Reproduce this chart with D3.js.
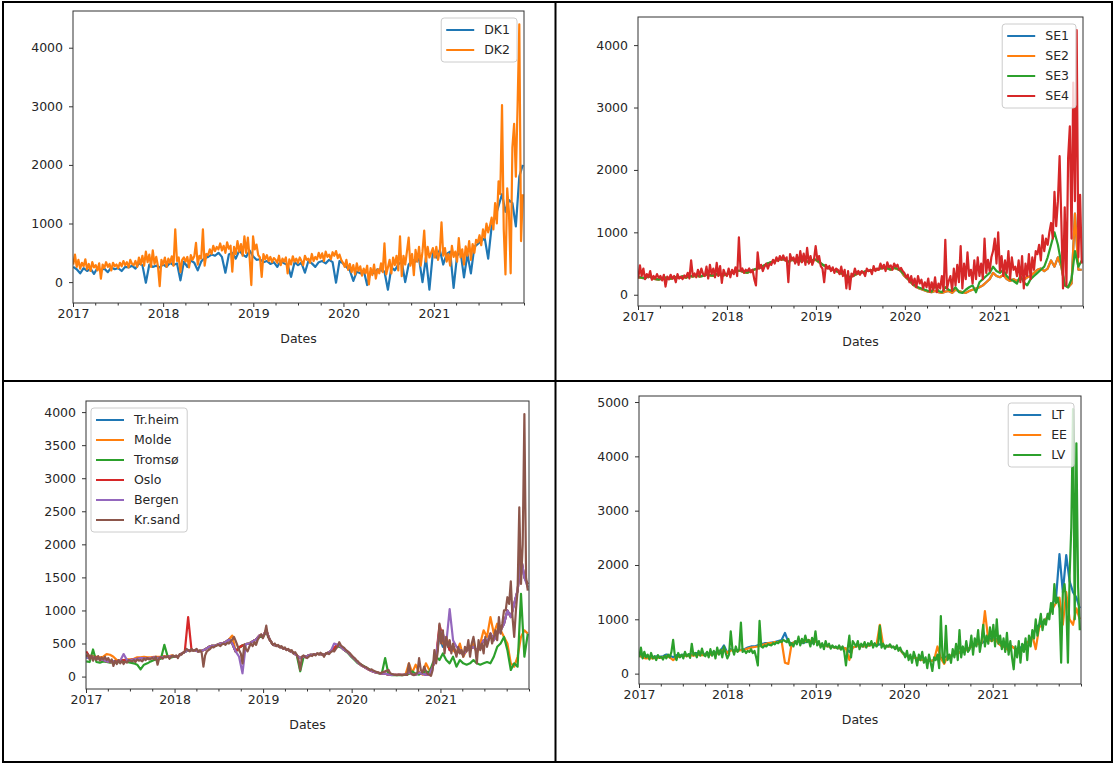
<!DOCTYPE html>
<html>
<head>
<meta charset="utf-8">
<script src="https://cdn.jsdelivr.net/npm/d3@7"></script>
<style>
body { margin: 0; background: #fff; }
svg text { font-family: "DejaVu Sans", sans-serif; }
</style>
</head>
<body>
<script>
// weekly / biweekly prices, from 2017-01-02
var weekly = 7, biweekly = 14;
var yearTicks = ["2017", "2018", "2019", "2020", "2021"];
var xLabel = "Dates";

var dk1 = [
  260, 220, 150, 240, 190, 230, 140, 240, 200, 230, 170, 250, 220, 240, 190, 260, 250, 280, 230, 320, 290, -10, 300, 260, 280, 250,
  300, 260, 330, 290, 320, 30, 350, 260, 370, 330, 200, 350, 410, 430, 470, 450, 500, 430, 160, 470, 500, 400, 540, 470, 430, 540,
  440, 380, 390, 340, 360, 310, 340, 260, 360, 320, 290, 90, 340, 290, 330, 160, 360, 320, 260, 340, 360, 320, 380, 340, -10, 360,
  320, 260, 200, 20, 180, 150, 200, -50, 180, 150, 220, 200, 180, -130, 250, 200, 300, 350, 0, 300, 380, 350, 400, 0, 420, -130,
  500, 420, 550, 300, 480, 520, -100, 450, 520, 80, 480, 150, 600, 650, 700, 750, 400, 950, 1100, 1300, 1500, 1200, 1400, 1350, 950, 1800,
  2000];
var dk2 = [
  300, 470, 260, 380, 230, 330, 270, 390, 220, 310, 190, 340, 250, 290, 200, 320, 60, 300, 240, 340, 260, 310, 200, 330, 270, 300,
  240, 330, 270, 360, 290, 340, 250, 380, 310, 290, 360, 260, 420, 300, 450, 280, 520, 340, 470, 260, 540, 310, 430, 270, -70, 380,
  300, 420, 260, 400, 330, 440, 280, 900, 360, 420, 170, 380, 420, 350, 430, 250, 460, 380, 440, 670, 300, 450, 400, 900, 280, 480,
  460, 560, 480, 620, 530, 600, 560, 660, 540, 620, 500, 680, 570, 620, 180, 600, 480, 700, 520, 650, 450, 780, 500, 760, 420, -50,
  780, 560, 640, 460, 420, 90, 480, 390, 460, 360, 430, 340, 410, 380, 330, 450, 290, 400, 350, 420, 150, 390, 300, 440, 350, 400,
  330, 420, 360, 290, 450, 380, 400, 330, 480, 360, 430, 390, 500, 410, 490, 360, 520, 430, 470, 390, 510, 450, 530, 410, 470, 380,
  330, 260, 380, 210, 310, 170, 290, 130, 320, 190, 270, 110, 230, 150, 280, -40, 240, 120, 300, 60, 220, 150, 320, 170, 660, 130,
  250, 380, 150, 420, 290, 450, 200, 780, 100, 450, 300, 520, 760, 280, 480, 120, 550, 350, 600, 280, 520, 880, 350, 600, 420, 500,
  580, 420, 600, 380, 520, 1020, 450, 580, 350, 480, 280, 620, 430, 520, 350, 750, 420, 560, 300, 610, 450, 700, 380, 650, 500, 720,
  680, 800, 630, 900, 760, 1000, 850, 960, 1100, 900, 1350, 1000, 1720, 1500, 3020, 900, 130, 1600, 1200, 150, 2300, 2700, 1800, 3000, 4400, 700,
  1500];

var se1 = [
  280, 270, 260, 300, 270, 250, 240, 260, 270, 250, 260, 280, 270, 290, 270, 300, 290, 310, 290, 300, 320, 310, 300, 330, 320, 310,
  330, 350, 360, 380, 380, 360, 350, 380, 400, 420, 440, 470, 500, 520, 540, 560, 570, 560, 520, 560, 540, 520, 560, 540, 520, 550,
  560, 520, 480, 450, 420, 400, 380, 350, 330, 300, 280, 300, 330, 350, 360, 380, 380, 400, 400, 420, 430, 420, 400, 430, 410, 380,
  300, 250, 190, 140, 110, 90, 70, 50, 40, 60, 40, 30, 50, 60, 30, 80, 60, 40, 30, 60, 80, 100, 120, 150, 200, 250,
  350, 300, 280, 320, 250, 220, 250, 220, 260, 240, 280, 300, 350, 400, 420, 380, 420, 550, 450, 600, 450, 150, 120, 180, 1300, 400,
  400];
var se2 = [
  280, 270, 265, 300, 270, 250, 240, 260, 270, 250, 260, 280, 270, 290, 270, 300, 290, 310, 290, 300, 320, 310, 300, 330, 320, 310,
  330, 350, 360, 380, 380, 360, 350, 380, 400, 420, 440, 470, 500, 520, 540, 560, 570, 560, 520, 560, 540, 520, 560, 540, 520, 550,
  560, 520, 480, 450, 420, 400, 380, 350, 330, 300, 280, 300, 330, 350, 360, 380, 380, 400, 400, 420, 430, 420, 400, 430, 410, 380,
  300, 250, 190, 140, 110, 90, 70, 50, 40, 60, 40, 30, 50, 60, 30, 80, 60, 40, 30, 60, 80, 100, 120, 150, 200, 250,
  350, 300, 280, 320, 250, 220, 250, 220, 260, 240, 280, 300, 350, 400, 420, 380, 420, 550, 450, 600, 450, 150, 120, 180, 1300, 400,
  400];
var se3 = [
  285, 275, 265, 300, 275, 255, 245, 265, 275, 255, 265, 285, 275, 295, 275, 305, 295, 315, 295, 305, 325, 315, 305, 335, 325, 315,
  335, 355, 365, 385, 385, 365, 355, 385, 405, 425, 445, 475, 505, 525, 545, 565, 575, 565, 525, 565, 545, 525, 565, 545, 525, 555,
  565, 525, 485, 455, 425, 405, 385, 355, 335, 305, 285, 305, 335, 355, 365, 385, 385, 405, 405, 425, 435, 425, 405, 435, 415, 385,
  320, 260, 200, 150, 120, 100, 80, 60, 50, 150, 60, 40, 120, 80, 60, 120, 40, 30, 80, 120, 150, 40, 200, 250, 300, 350,
  450, 380, 350, 400, 300, 250, 220, 180, 300, 200, 150, 250, 300, 350, 400, 450, 600, 800, 1000, 800, 500, 150, 120, 250, 700, 450,
  550];
var se4 = [
  260, 470, 300, 420, 250, 330, 280, 380, 240, 300, 260, 330, 270, 300, 230, 320, 130, 290, 250, 320, 260, 300, 200, 330, 260, 290,
  250, 310, 280, 350, 260, 550, 300, 340, 280, 400, 300, 420, 330, 300, 450, 260, 480, 330, 420, 280, 510, 300, 460, 190, 400, 330,
  300, 420, 280, 400, 330, 440, 300, 920, 380, 420, 350, 400, 380, 420, 360, 400, 250, 150, 680, 420, 480, 380, 450, 500, 420, 500,
  480, 560, 500, 600, 540, 620, 560, 630, 550, 600, 200, 650, 560, 600, 500, 640, 480, 700, 520, 660, 480, 750, 500, 620, 480, 560,
  780, 560, 620, 460, 420, 200, 480, 420, 460, 380, 440, 350, 420, 400, 330, 450, 300, 400, 100, 380, 90, 340, 300, 420, 330, 380,
  320, 380, 360, 300, 420, 380, 400, 330, 460, 380, 420, 400, 500, 420, 480, 380, 520, 440, 470, 400, 500, 450, 480, 400, 430, 380,
  350, 280, 320, 200, 300, 160, 260, 120, 300, 180, 240, 100, 200, 120, 260, 50, 200, 80, 280, 40, 180, 100, 300, 60, 880, 100,
  220, 300, 60, 420, 150, 480, 200, 780, 100, 500, 250, 680, 300, 400, 180, 550, 250, 600, 300, 500, 250, 900, 350, 560, 380, 600,
  700, 900, 500, 1000, 380, 620, 300, 550, 350, 700, 250, 600, 400, 450, 300, 550, 200, 620, 100, 500, 300, 650, 250, 600, 400, 700,
  650, 800, 550, 950, 700, 900, 800, 1000, 1150, 900, 1650, 1100, 1500, 2220, 1200, 100, 1400, 150, 2200, 2700, 900, 3400, 1500, 4240, 600, 1600,
  500];

var trheim = [
  290, 280, 290, 280, 270, 250, 230, 220, 230, 220, 240, 250, 250, 250, 260, 270, 280, 280, 270, 280, 290, 280, 290, 300, 300, 310,
  310, 300, 345, 370, 400, 400, 400, 380, 390, 410, 445, 465, 470, 490, 505, 520, 560, 500, 380, 440, 470, 490, 500, 530, 560, 620,
  610, 700, 560, 480, 470, 450, 430, 410, 390, 360, 320, 280, 300, 310, 330, 330, 345, 340, 330, 355, 385, 430, 480, 450, 400, 370,
  315, 265, 215, 170, 140, 110, 85, 65, 55, 45, 45, 30, 25, 25, 25, 25, 30, 120, 35, 30, 60, 40, 30, 25, 150, 300,
  600, 450, 550, 400, 450, 350, 400, 330, 400, 420, 450, 400, 450, 550, 500, 650, 550, 650, 700, 800, 1000, 900, 1100, 1300, 1800, 1500,
  1400];
var molde = [
  320, 300, 310, 300, 290, 300, 340, 330, 300, 250, 240, 250, 260, 260, 270, 290, 290, 300, 290, 290, 300, 300, 300, 310, 300, 320,
  310, 300, 345, 370, 400, 400, 400, 380, 390, 410, 445, 465, 470, 490, 505, 520, 560, 620, 380, 440, 470, 490, 500, 530, 560, 620,
  610, 700, 560, 480, 470, 450, 430, 410, 390, 360, 320, 280, 300, 310, 330, 330, 345, 340, 330, 355, 385, 430, 480, 450, 400, 370,
  315, 265, 215, 170, 140, 110, 85, 65, 55, 45, 45, 30, 25, 25, 25, 25, 30, 200, 60, 180, 60, 30, 200, 100, 150, 300,
  700, 500, 600, 450, 400, 350, 500, 300, 400, 450, 500, 350, 500, 700, 600, 900, 650, 800, 700, 600, 500, 200, 150, 300, 600, 700,
  650];
var tromso = [
  230, 220, 410, 220, 210, 230, 220, 210, 220, 220, 220, 230, 220, 210, 200, 180, 110, 180, 200, 230, 250, 260, 270, 480, 300, 290,
  300, 300, 345, 370, 400, 400, 400, 380, 390, 410, 445, 465, 470, 490, 505, 520, 560, 500, 380, 440, 470, 490, 500, 530, 560, 600,
  600, 680, 560, 480, 470, 450, 430, 410, 390, 360, 320, 80, 300, 310, 330, 330, 345, 340, 330, 355, 385, 420, 460, 440, 400, 360,
  300, 250, 200, 180, 150, 120, 90, 70, 50, 40, 280, 30, 20, 20, 20, 20, 30, 40, 80, 40, 30, 60, 80, 60, 200, 300,
  250, 350, 250, 200, 300, 150, 250, 200, 180, 200, 250, 200, 180, 200, 220, 200, 300, 450, 500, 600, 400, 100, 200, 150, 1250, 300,
  650];
var oslo = [
  380, 300, 280, 290, 270, 250, 230, 220, 220, 230, 240, 250, 250, 250, 260, 270, 280, 280, 270, 280, 290, 280, 290, 300, 300, 310,
  310, 300, 345, 370, 900, 400, 400, 380, 390, 410, 445, 465, 470, 490, 505, 520, 560, 500, 380, 440, 470, 490, 500, 530, 560, 620,
  610, 700, 560, 480, 470, 450, 430, 410, 390, 360, 320, 280, 300, 310, 330, 330, 345, 340, 330, 355, 385, 430, 480, 450, 400, 370,
  315, 265, 215, 170, 140, 110, 85, 65, 55, 45, 45, 30, 25, 25, 25, 25, 30, 60, 35, 30, 60, 40, 30, 25, 150, 300,
  780, 600, 550, 400, 450, 350, 400, 330, 400, 420, 450, 400, 450, 550, 500, 650, 550, 650, 700, 800, 1000, 900, 1100, 1300, 1800, 1500,
  1400];
var bergen = [
  290, 280, 290, 280, 270, 250, 230, 220, 230, 220, 240, 340, 250, 250, 260, 270, 280, 280, 270, 280, 290, 280, 290, 300, 300, 310,
  310, 300, 345, 370, 400, 400, 400, 380, 390, 410, 445, 465, 470, 490, 505, 520, 560, 500, 380, 300, 50, 490, 500, 530, 560, 620,
  610, 700, 560, 480, 470, 450, 430, 410, 390, 360, 320, 280, 300, 310, 330, 330, 345, 340, 330, 355, 385, 500, 480, 450, 400, 370,
  315, 265, 215, 170, 140, 110, 85, 65, 55, 45, 45, 30, 25, 25, 25, 25, 30, 60, 35, 30, 60, 40, 30, 25, 150, 300,
  700, 650, 500, 1020, 550, 450, 400, 330, 400, 420, 450, 400, 450, 550, 500, 650, 550, 650, 700, 800, 1000, 900, 1100, 1300, 1800, 1500,
  1350];
var krsand = [
  300, 340, 260, 320, 240, 300, 250, 310, 240, 290, 260, 300, 250, 280, 220, 260, 160, 240, 190, 250, 200, 240, 190, 230, 210, 250,
  240, 230, 250, 220, 260, 240, 250, 230, 270, 250, 280, 260, 270, 280, 260, 300, 180, 280, 290, 270, 300, 290, 310, 270, 300, 320,
  300, 320, 280, 340, 330, 360, 380, 420, 400, 380, 420, 390, 400, 420, 380, 400, 360, 150, 320, 380, 400, 420, 450, 440, 460, 470,
  480, 460, 490, 500, 480, 510, 500, 530, 560, 600, 540, 470, 400, 350, 200, 480, 420, 380, 450, 500, 460, 520, 480, 560, 600, 640,
  580, 640, 770, 600, 560, 520, 480, 500, 460, 480, 440, 460, 420, 440, 400, 420, 380, 400, 350, 370, 330, 250, 100, 300, 320, 290,
  280, 300, 320, 310, 340, 320, 350, 330, 360, 340, 300, 350, 360, 340, 370, 390, 380, 420, 450, 520, 470, 450, 430, 400, 380, 360,
  330, 300, 280, 250, 230, 200, 180, 160, 150, 140, 120, 100, 110, 90, 80, 70, 60, 50, 60, 70, 80, 90, 100, 50, 40, 30,
  25, 20, 30, 25, 20, 25, 30, 25, 200, 60, 30, 20, 40, 60, 280, 100, 60, 150, 80, 40, 30, 10, 100, 400, 200, 380,
  800, 500, 700, 350, 600, 450, 550, 350, 500, 400, 300, 450, 350, 400, 300, 450, 380, 550, 300, 500, 600, 450, 200, 550, 400, 500,
  350, 600, 450, 550, 650, 500, 600, 700, 550, 900, 650, 800, 1000, 1000, 1200, 1100, 1440, 900, 600, 1000, 1300, 2560, 1400, 2000, 3970, 1500,
  1300];

var lt = [
  350, 330, 320, 300, 300, 320, 310, 320, 350, 330, 300, 340, 330, 350, 330, 360, 340, 380, 360, 350, 380, 360, 400, 380, 420, 520,
  380, 450, 420, 430, 440, 450, 480, 500, 500, 520, 540, 560, 560, 570, 580, 600, 620, 750, 580, 560, 580, 600, 560, 580, 600, 560,
  600, 540, 520, 510, 500, 490, 480, 470, 480, 460, 400, 480, 500, 520, 500, 510, 520, 540, 530, 540, 520, 500, 500, 490, 470, 440,
  360, 330, 300, 300, 280, 250, 260, 250, 230, 250, 300, 280, 300, 320, 330, 350, 380, 400, 420, 450, 500, 520, 550, 560, 600, 620,
  650, 650, 600, 550, 500, 450, 500, 450, 450, 500, 550, 600, 650, 850, 900, 950, 1000, 1100, 1300, 1400, 2200, 1500, 2180, 1700, 1500, 1400,
  1200];
var ee = [
  330, 300, 280, 290, 280, 300, 290, 300, 320, 300, 250, 300, 320, 330, 320, 340, 330, 350, 340, 340, 360, 350, 380, 370, 400, 450,
  380, 430, 420, 420, 430, 440, 460, 480, 490, 500, 520, 540, 560, 560, 580, 580, 600, 200, 180, 560, 580, 600, 580, 600, 620, 580,
  600, 540, 520, 510, 500, 490, 480, 470, 480, 460, 250, 480, 500, 520, 500, 510, 520, 540, 530, 900, 520, 500, 500, 490, 470, 440,
  360, 330, 300, 300, 280, 250, 260, 250, 230, 250, 500, 280, 180, 320, 330, 350, 380, 400, 420, 450, 500, 520, 550, 560, 1150, 620,
  600, 650, 550, 500, 480, 420, 500, 450, 400, 450, 550, 600, 700, 450, 850, 900, 1000, 1100, 1200, 1300, 1400, 900, 1500, 1000, 900, 1200,
  1000];
var lv = [
  300, 480, 280, 400, 300, 350, 260, 380, 280, 320, 250, 340, 290, 310, 260, 330, 280, 350, 300, 400, 620, 330, 250, 380, 300, 350,
  280, 400, 320, 360, 290, 550, 340, 380, 300, 420, 330, 460, 350, 320, 400, 300, 450, 330, 420, 280, 480, 350, 440, 300, 500, 380,
  280, 350, 780, 450, 350, 500, 400, 450, 940, 400, 430, 380, 420, 400, 450, 380, 420, 300, 150, 970, 500, 480, 520, 500, 540, 530,
  520, 560, 540, 580, 560, 600, 580, 620, 600, 580, 640, 520, 560, 500, 600, 540, 680, 520, 640, 560, 700, 580, 620, 500, 660, 540,
  780, 520, 600, 480, 560, 450, 600, 500, 550, 460, 520, 480, 500, 460, 520, 440, 500, 400, 150, 450, 700, 300, 600, 550, 500, 600,
  450, 550, 500, 580, 480, 560, 520, 600, 480, 560, 500, 540, 880, 480, 550, 460, 520, 500, 540, 480, 500, 450, 520, 420, 480, 400,
  380, 300, 420, 250, 350, 200, 400, 300, 150, 350, 250, 400, 200, 300, 100, 350, 200, 50, 300, 250, 350, 100, 1060, 300, 200, 880,
  250, 350, 200, 450, 300, 550, 250, 800, 300, 500, 350, 600, 400, 450, 700, 350, 650, 500, 800, 400, 600, 900, 500, 700, 550, 850,
  600, 900, 500, 1000, 550, 700, 450, 650, 400, 750, 350, 600, 300, 80, 500, 300, 600, 200, 550, 400, 650, 250, 700, 500, 800, 650,
  1000, 700, 900, 1100, 800, 1000, 900, 1100, 1000, 1300, 1100, 1650, 1300, 1400, 1200, 200, 1500, 1650, 1300, 200, 1800, 2700, 4870, 1000, 4240, 1600,
  800];

var colors = ["#1f77b4", "#ff7f0e", "#2ca02c", "#d62728", "#9467bd", "#8c564b"];

var panels = [
  {names: ["DK1", "DK2"], values: [dk1, dk2], steps: [biweekly, weekly],
   yTicks: [0, 1000, 2000, 3000, 4000], left: 73, right: 524, top: 11, bottom: 303, legend: "right"},
  {names: ["SE1", "SE2", "SE3", "SE4"], values: [se1, se2, se3, se4], steps: [biweekly, biweekly, biweekly, weekly],
   yTicks: [0, 1000, 2000, 3000, 4000], left: 638, right: 1083, top: 17, bottom: 306, legend: "right"},
  {names: ["Tr.heim", "Molde", "Tromsø", "Oslo", "Bergen", "Kr.sand"],
   values: [trheim, molde, tromso, oslo, bergen, krsand], steps: [biweekly, biweekly, biweekly, biweekly, biweekly, weekly],
   yTicks: [0, 500, 1000, 1500, 2000, 2500, 3000, 3500, 4000], left: 86, right: 529, top: 401, bottom: 689, legend: "left"},
  {names: ["LT", "EE", "LV"], values: [lt, ee, lv], steps: [biweekly, biweekly, weekly],
   yTicks: [0, 1000, 2000, 3000, 4000, 5000], left: 639, right: 1081, top: 396, bottom: 684, legend: "right"}
];

var svg = d3.select("body").append("svg")
    .attr("width", 1114)
    .attr("height", 764);

var start = new Date(2017, 0, 2);
var x0 = new Date(2017, 0, 1), x1 = new Date(2022, 0, 1);
var majors = yearTicks.map(function(t) { return new Date(+t, 0, 1); });
var minors = d3.timeMonth.every(3).range(x0, new Date(2022, 0, 2))
    .filter(function(d) { return d.getMonth() !== 0 || d.getFullYear() === 2022; });

panels.forEach(function(p, k) {
    var g = svg.append("g");

    var x = d3.scaleTime().domain([x0, x1]).range([p.left, p.right]);
    var all = d3.merge(p.values);
    var lo = d3.min(all), hi = d3.max(all), pad = (hi - lo) * 0.05;
    var y = d3.scaleLinear().domain([lo - pad, hi + pad]).range([p.bottom, p.top]);

    g.append("clipPath").attr("id", "clip" + k)
      .append("rect")
        .attr("x", p.left).attr("y", p.top)
        .attr("width", p.right - p.left).attr("height", p.bottom - p.top);

    p.values.forEach(function(vals, i) {
        var line = d3.line()
            .x(function(d, j) { return x(d3.timeDay.offset(start, j * p.steps[i])); })
            .y(function(d) { return y(d); });
        g.append("path")
            .attr("d", line(vals))
            .attr("fill", "none")
            .attr("stroke", colors[i])
            .attr("stroke-width", 2.2)
            .attr("stroke-linejoin", "round")
            .attr("clip-path", "url(#clip" + k + ")");
    });

    // axes
    g.append("g")
        .attr("transform", "translate(0," + p.bottom + ")")
        .call(d3.axisBottom(x).tickValues(minors).tickFormat("").tickSize(2.5));
    g.append("g")
        .attr("transform", "translate(0," + p.bottom + ")")
        .call(d3.axisBottom(x).tickValues(majors).tickFormat(d3.timeFormat("%Y")).tickSize(4).tickPadding(2));
    g.append("g")
        .attr("transform", "translate(" + p.left + ",0)")
        .call(d3.axisLeft(y).tickValues(p.yTicks).tickFormat(d3.format("d")).tickSize(4).tickPadding(6));

    g.selectAll(".domain").remove();
    g.selectAll(".tick line").attr("stroke", "#333");
    g.selectAll(".tick text").attr("fill", "#262626");
    g.selectAll("g").attr("font-family", null).attr("font-size", 12.5);

    g.append("rect")
        .attr("x", p.left).attr("y", p.top)
        .attr("width", p.right - p.left).attr("height", p.bottom - p.top)
        .attr("fill", "none")
        .attr("stroke", "#333")
        .attr("stroke-width", 1);

    g.append("text")
        .attr("x", (p.left + p.right) / 2)
        .attr("y", p.bottom + 40)
        .attr("text-anchor", "middle")
        .attr("font-size", 12.5)
        .attr("fill", "#262626")
        .text(xLabel);

    // legend
    var lg = g.append("g");
    var rows = lg.selectAll("g.row").data(p.names).enter().append("g")
        .attr("class", "row")
        .attr("transform", function(d, i) { return "translate(0," + (12 + i * 20) + ")"; });
    rows.append("line")
        .attr("x1", 5).attr("x2", 33)
        .attr("stroke", function(d, i) { return colors[i]; })
        .attr("stroke-width", 2);
    rows.append("text")
        .attr("x", 43)
        .attr("dy", "0.35em")
        .attr("font-size", 12.5)
        .attr("fill", "#262626")
        .text(function(d) { return d; });
    var tw = d3.max(rows.selectAll("text").nodes(), function(n) { return n.getComputedTextLength(); });
    var w = 43 + tw + 7, h = 24 + (p.names.length - 1) * 20;
    lg.insert("rect", ":first-child")
        .attr("width", w).attr("height", h)
        .attr("rx", 3)
        .attr("fill", "white").attr("fill-opacity", 0.8)
        .attr("stroke", "#cccccc");
    var lx = p.legend === "right" ? p.right - 7 - w : p.left + 5;
    lg.attr("transform", "translate(" + lx + "," + (p.top + 7) + ")");
});

// table borders
svg.append("rect")
    .attr("x", 3).attr("y", 2).attr("width", 1109).attr("height", 760)
    .attr("fill", "none").attr("stroke", "#000").attr("stroke-width", 2);
svg.append("line")
    .attr("x1", 555.5).attr("x2", 555.5).attr("y1", 2).attr("y2", 762)
    .attr("stroke", "#000").attr("stroke-width", 2);
svg.append("line")
    .attr("x1", 3).attr("x2", 1112).attr("y1", 381).attr("y2", 381)
    .attr("stroke", "#000").attr("stroke-width", 2);
</script>
</body>
</html>
